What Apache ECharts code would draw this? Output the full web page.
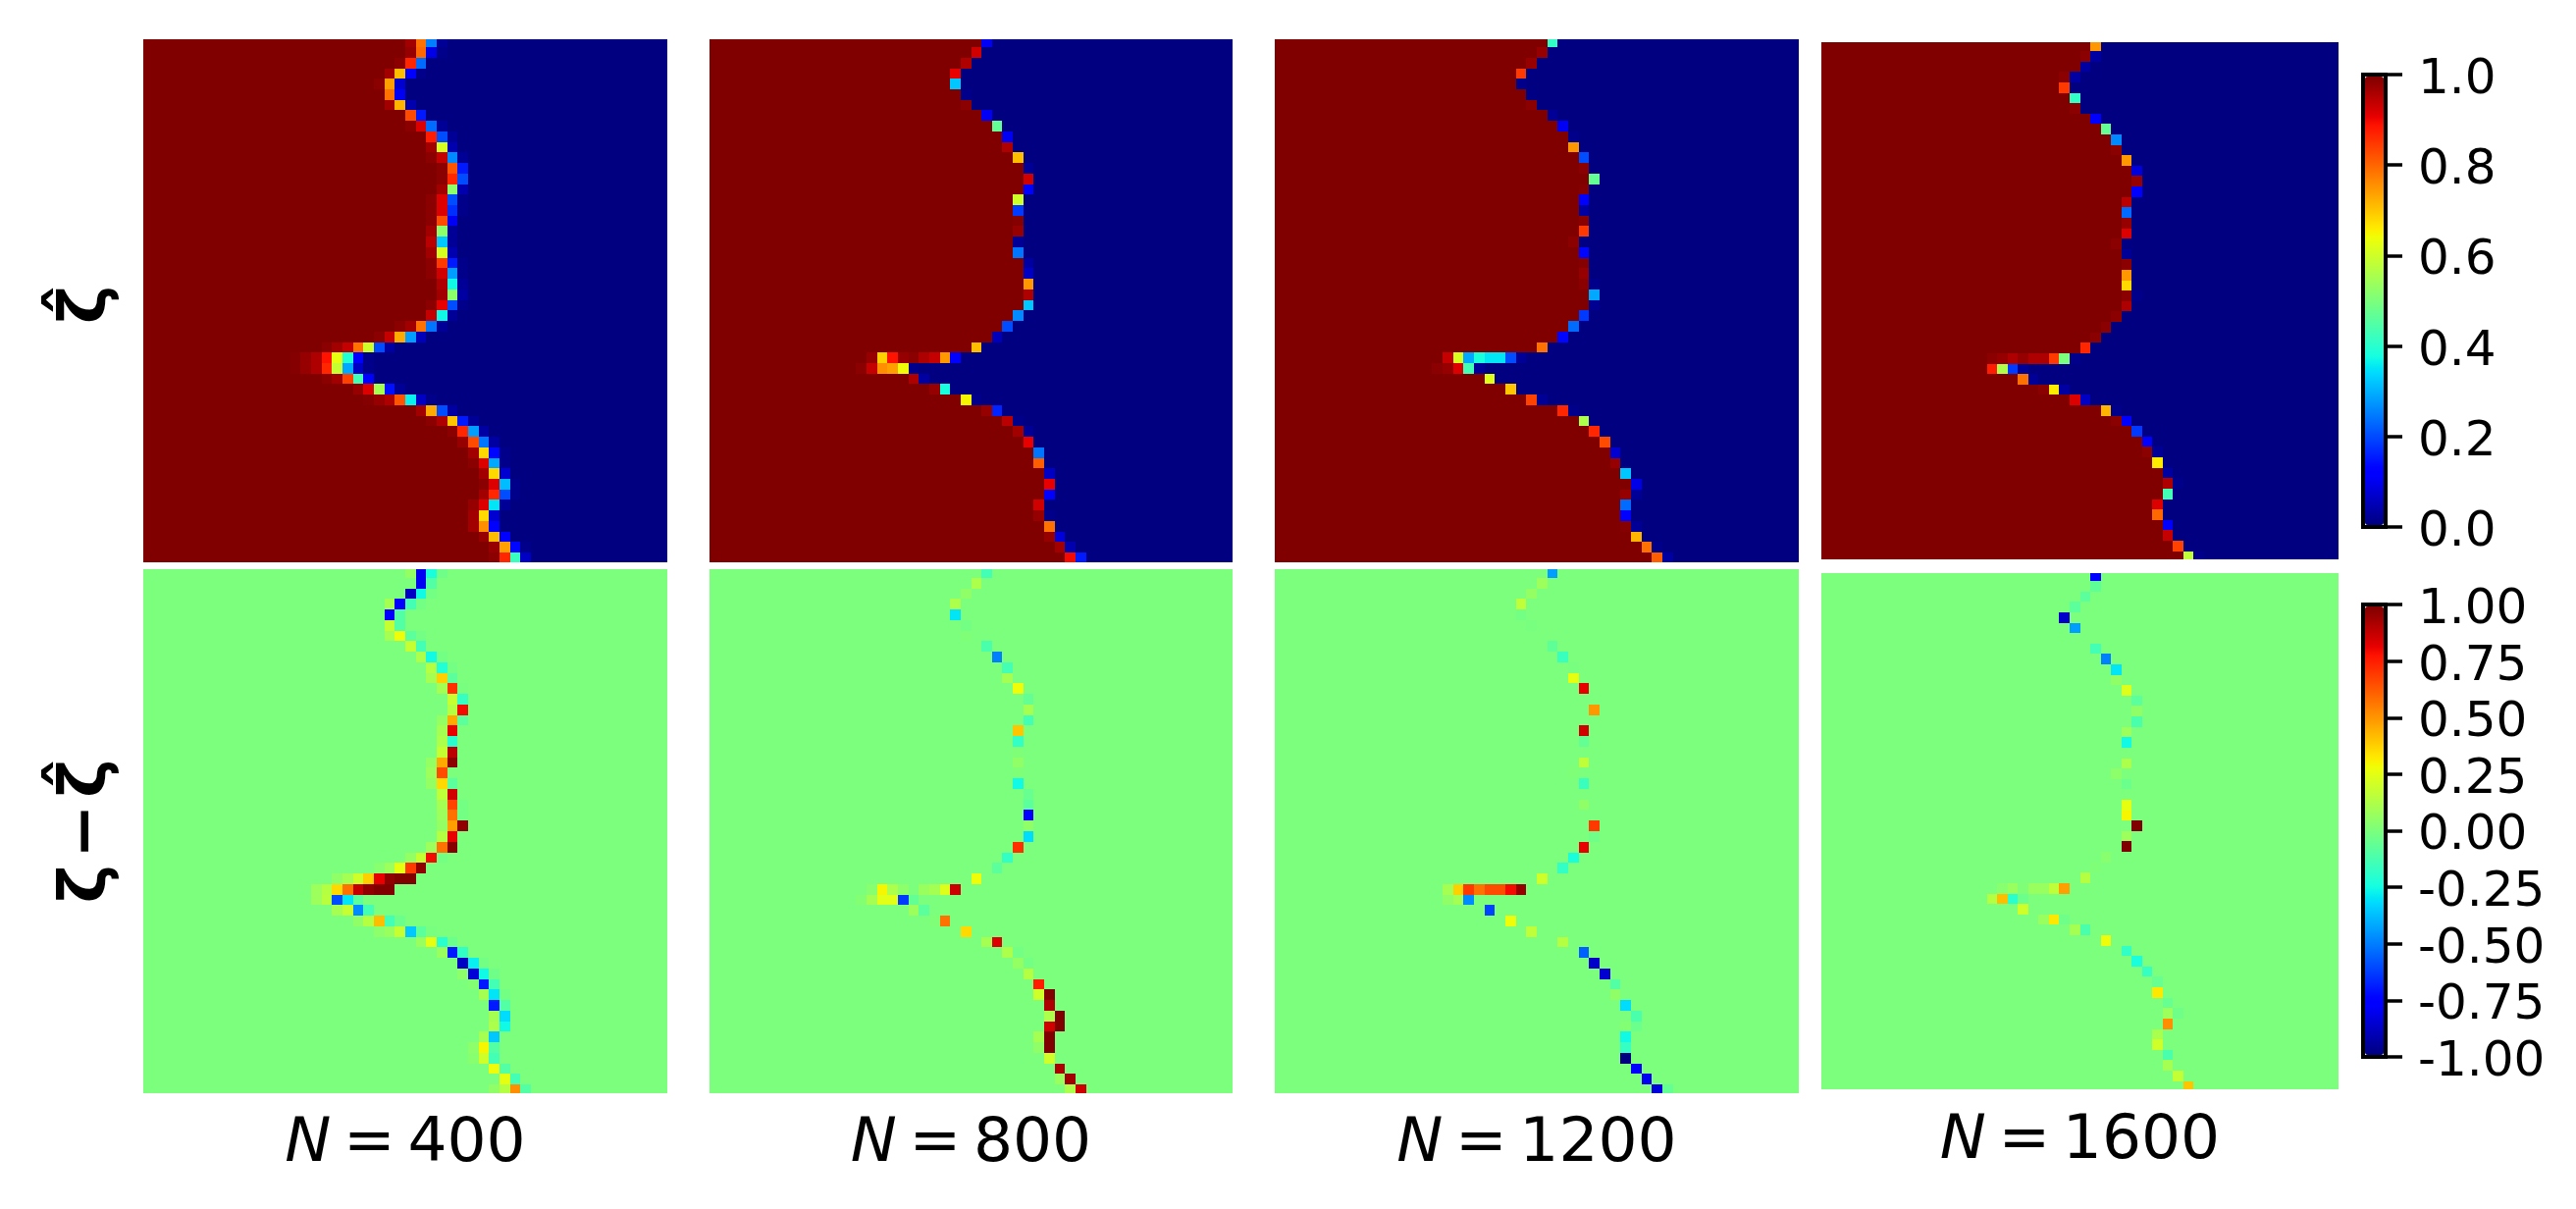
<!DOCTYPE html>
<html>
<head>
<meta charset="utf-8">
<style>html,body{margin:0;padding:0;background:#fff}#chart{width:2625px;height:1232px}</style>
<script src="https://cdn.jsdelivr.net/npm/echarts@6/dist/echarts.min.js"></script>
</head>
<body>
<div id="chart"></div>
<script>
// Each row: [first column of the boundary cells, values of those cells...]
// zetaHat: cells left of the run read 1, cells right of it read 0. diff: all other cells read 0.
const zetaHat400 = [
[25,.97,.79,.25,.02],[25,.98,.8,.09,.01],[24,.99,.87,.23],[23,.97,.71,.11,.01],[22,.99,.74,.07],
[23,.79,.1],[23,.97,.72,.04],[25,.83,.15],[25,.99,.92,.23,.02],[27,.88,.2,.02],
[27,.97,.61,.04],[27,.99,.94,.26,.02],[28,.99,.82,.15],[28,.99,.87,.2],[28,.97,.52,.04],
[27,.99,.92,.2,.01],[27,.99,.92,.17,.01],[27,.99,.83,.1],[27,.97,.52,.02],[27,.95,.32,.02],
[27,.97,.61,.04],[27,.99,.85,.15,.01],[27,.99,.93,.28,.01],[28,.96,.37,.02],[28,.97,.52,.03],
[27,.99,.91,.2,.01],[27,.94,.37,.02],[24,.99,.97,.79,.24,.02],[22,.99,.94,.73,.28,.05],[17,.99,.97,.94,.79,.6,.2,.03],
[14,.995,.98,.96,.89,.63,.39,.11,.01],[14,.995,.98,.96,.87,.59,.29,.06,.01],[17,.99,.97,.84,.43,.11],[20,.98,.92,.55,.14,.02],[21,.995,.98,.96,.82,.36,.06,.01],
[26,.97,.73,.2,.03],[27,.99,.96,.7,.15,.02],[29,.99,.87,.28,.03],[30,.98,.83,.24,.03],[31,.97,.68,.13,.01],
[31,.99,.92,.29,.01],[32,.97,.68,.07],[32,.99,.92,.31,.01],[32,.97,.87,.2,.01],[31,.98,.92,.35,.02],
[31,.97,.68,.07],[31,.97,.76,.11],[32,.98,.71,.11],[33,.98,.74,.13,.01],[33,.99,.87,.42,.06]
];
const diff400 = [
[25,.06,-.8,-.24,-.03],[26,-.8,-.1],[25,-.88,-.26,-.02],[23,.1,-.78,-.14,-.02],[23,-.78,-.1],
[23,.18,-.1],[23,.1,.28,-.08,-.02],[25,.18,-.14],[26,.12,-.26,-.02],[27,.14,-.22,-.02],
[27,.1,.38,-.08],[28,.1,.72,-.01],[29,.18,-.17],[29,.14,.8],[28,.06,.46,-.08],
[28,.1,.82],[28,.12,-.2],[28,.18,.9],[27,.06,.46,.98],[27,.08,.66],
[27,.06,.36,-.08],[28,.16,.86],[28,.1,.68,-.02],[28,.08,.58,-.02],[28,.06,.48,.97],
[28,.14,.82],[27,.08,.58,.99],[25,.06,.18,.8,-.02],[22,.03,.08,.26,.7,.97],[18,.05,.1,.2,.38,.82,.97,1,1],
[16,.08,.14,.36,.58,.88,.97,1,1],[16,.08,.15,-.6,-.3,-.08],[18,.1,.18,-.48,-.14],[20,.05,.14,.42,-.14,-.04],[22,.04,.07,.18,-.36,-.08,-.01],
[26,.07,.26,-.2,-.04],[28,.07,-.7,-.18],[30,-.88,-.28,-.02],[30,.04,-.85,-.26,-.03],[31,.02,-.7,-.14],
[32,.1,-.3,-.02],[33,-.7,-.1],[33,.1,-.32],[33,.12,-.26],[32,.1,-.36],
[31,.04,.3,-.1],[31,.03,.2,-.14],[33,.28,-.1],[34,.26,-.14],[33,.05,.14,.52,-.1]
];
const zetaHat800 = [
[26,.1],[25,.93],[24,.96],[23,.91],[23,.32],
[24,.01],[24,.99],[26,.1],[27,.47],[28,.1],
[28,.96],[29,.71],[30,.02],[30,.93],[30,.11],
[29,.6],[29,.18],[29,.995],[29,.98],[29,.02],
[29,.24],[30,.03],[30,.06],[30,.75],[30,.96],
[30,.32],[29,.26],[28,.2],[27,.05],[25,.71],
[15,.98,.69,.89,.98,.99,.96,.94,.75,.11],[14,.99,.94,.76,.74,.64,.01],[19,.96,.03],[21,.98,.38],[24,.65,.01],
[26,.98,.16],[28,.95,.01],[29,.97,.02],[30,.91],[31,.24],
[31,.81],[32,.06],[32,.91],[32,.11],[31,.93],
[31,.98,.01],[32,.79],[32,.98,.08],[33,.97,.04],[34,.9,.15]
];
const diff800 = [
[26,-.14],[25,.12],[24,.05],[23,.12],[23,-.3],
[24,-.02],[24,.01],[26,-.12],[27,-.5],[28,-.14],
[28,.1],[29,.28],[30,-.06],[30,.1],[30,-.14],
[29,.4],[29,-.18],[29,.01],[29,.05],[29,.01],
[29,-.26],[30,-.05],[30,-.08],[30,-.78],[30,.05],
[30,-.32],[29,.72],[28,-.18],[27,-.08],[25,.28],
[15,.03,.3,.12,.04,0,.07,.1,.24,.87],[14,.02,.1,.25,.25,-.64,-.06],[19,.08,-.08],[21,.01,.58],[24,.36],
[26,.1,.84],[28,.12,-.02],[29,.06,-.02],[30,.14],[31,.76],
[31,.2,1],[32,.92],[32,.12,1],[32,.86,1],[31,.1,1],
[31,.05,1],[32,.2],[33,.92],[33,.07,.94],[34,.12,.86]
];
const zetaHat1200 = [
[26,.41],[25,.98],[24,.98],[23,.85],[23,.01],
[24,.005],[24,.99],[26,.02],[27,.1],[28,.01],
[28,.75],[29,.2],[29,.99],[30,.47],[29,.995],
[29,.11],[29,.03],[29,.99],[29,.85],[28,.99,.005],
[29,.13],[29,.995],[29,.98],[29,.99,.01],[30,.29],
[30,.015],[29,.18],[28,.23],[27,.13],[25,.79],
[16,.94,.61,.29,.38,.35,.35,.2,.02],[15,.99,.98,.92,.43,.02],[20,.62],[22,.7],[24,.84,.02],
[27,.87,.01],[29,.56],[30,.87],[31,.83],[32,.07],
[32,.98],[33,.32],[34,.09],[33,.98,.02],[33,.23],
[33,.11],[33,.995,.02],[34,.72],[35,.79,.01],[36,.81,.03]
];
const diff1200 = [
[26,-.44],[25,.08],[24,.06],[23,.16],[23,-.02],
[24,-.01],[],[26,-.07],[27,-.16],[28,-.01],
[28,.26],[29,.82],[],[30,.5],[],
[29,.86],[29,-.06],[],[29,.16],[28,.01],
[29,-.16],[],[29,.05],[],[30,.7],
[30,-.03],[29,.82],[28,-.24],[27,-.18],[25,.2],
[16,.1,.38,.7,.58,.66,.66,.8,.96],[16,.05,.1,-.48],[20,-.62],[22,.28],[24,.16],
[27,.14],[29,-.56],[30,-.87],[31,-.86],[32,-.1],
[32,.05],[33,-.32],[34,-.12],[33,.02,-.04],[33,-.26],
[33,-.17],[33,-1],[34,-.78],[35,-.8],[36,-.84,-.06]
];
const zetaHat1600 = [
[26,.75],[25,.99,.03],[25,.03],[23,.99,.03],[23,.85],
[24,.41],[24,.99],[26,.11],[27,.47],[28,.26],
[28,.99],[29,.75],[30,.08],[30,.98],[30,.11],
[29,.95],[29,.23],[29,.98],[29,.92],[28,.99,.005],
[29,.02],[29,.99],[29,.75],[29,.68],[29,.99,.01],
[29,.96],[28,.99],[27,.99],[26,.99],[25,.87],
[16,.99,.98,.96,.98,.96,.96,.85,.5,.01],[16,.88,.56,.18,.02],[19,.79,.02],[21,.99,.66,.03],[24,.92,.06],
[27,.72,.01],[28,.99,.11],[30,.18],[31,.11],[31,.99,.02],
[32,.66],[33,.03],[33,.96,.01],[33,.43],[32,.92],
[32,.8],[33,.11],[33,.94],[34,.84],[35,.58,.01]
];
const diff1600 = [
[26,-.78],[26,-.07],[25,-.08],[24,-.08],[23,-.87],
[24,-.44],[],[26,-.14],[27,-.5],[28,-.3],
[28,.05],[29,.24],[30,-.08],[30,.05],[30,-.12],
[29,.08],[29,-.26],[],[29,.12],[28,.04],
[29,-.04],[],[29,.26],[29,.3],[30,1],
[29,.08],[29,1],[27,.03],[26,.01],[25,.14],
[17,.03,.07,.01,.07,.07,.16,.48],[16,.14,.42,-.2,-.04],[19,.2],[21,.07,.33,-.03],[24,.1,-.12],
[27,.28],[29,-.18],[30,-.24],[31,-.17],[32,-.05],
[32,.33],[33,-.05],[33,.08,-.03],[33,.52],[32,.11],
[32,.2],[33,-.12],[33,.1],[34,.17],[35,.4]
];
const sampleSizes = ['400', '800', '1200', '1600'];
const estimates = [zetaHat400, zetaHat800, zetaHat1200, zetaHat1600];
const differences = [diff400, diff800, diff1200, diff1600];
const rowLabels = ['\u03B6\u0302', '\u03B6\u200A\u2212\u200A\u03B6\u0302'];
const estimateTicks = [0, 1, 0.2, 1];        // min, max, interval, decimals
const differenceTicks = [-1, 1, 0.25, 2];

const CELLS = 50;
const cellIndex = Array.from({length: CELLS}, (_, i) => i);

// matplotlib jet colormap knots
const jetR = [[0,0],[.35,0],[.66,1],[.89,1],[1,.5]];
const jetG = [[0,0],[.125,0],[.375,1],[.64,1],[.91,0],[1,0]];
const jetB = [[0,.5],[.11,1],[.34,1],[.65,0],[1,0]];
function knot(k, t) {
  for (let i = 1; i < k.length; i++) {
    if (t <= k[i][0]) return k[i-1][1] + (k[i][1]-k[i-1][1])*(t-k[i-1][0])/(k[i][0]-k[i-1][0]);
  }
  return k[k.length-1][1];
}
const jet = Array.from({length: 256}, (_, i) => {
  const t = i / 255;
  return 'rgb(' + [jetR, jetG, jetB].map(k => Math.round(knot(k, t) * 255)).join(',') + ')';
});

function expandEstimate(rows) {
  const out = [];
  rows.forEach((row, r) => {
    const s = row[0], vals = row.slice(1);
    cellIndex.forEach(c => {
      const v = c < s ? 1 : (c < s + vals.length ? vals[c - s] : 0);
      out.push([c, r, v]);
    });
  });
  return out;
}
function expandDiff(rows) {
  const out = [];
  rows.forEach((row, r) => {
    const s = row.length ? row[0] : 999, vals = row.slice(1);
    cellIndex.forEach(c => {
      const v = (c >= s && c < s + vals.length) ? vals[c - s] : 0;
      out.push([c, r, v]);
    });
  });
  return out;
}

// each cell is drawn between its edges on the axis, snapped to whole pixels so that no seams show
function renderCell(params, api) {
  const c = api.value(0), r = api.value(1);
  const a = api.coord([c, r]), b = api.coord([c + 1, r + 1]);
  const x0 = Math.round(a[0]), y0 = Math.round(a[1]);
  return {
    type: 'rect',
    shape: {x: x0, y: y0, width: Math.round(b[0]) - x0, height: Math.round(b[1]) - y0},
    style: {fill: api.visual('color')}
  };
}

const FONT = '"DejaVu Sans"';
// layout: one box per column: [left, width, top1, height1, top2, height2, rowMin1, rowMax1, rowMin2, rowMax2]
const panels = [
  [146, 534, 40, 533, 580, 534, .25, 49.92, .18, 49.82],
  [723, 533, 40, 533, 580, 534, .25, 49.92, .18, 49.82],
  [1299, 534, 40, 533, 580, 534, .25, 49.92, .18, 49.82],
  [1856, 527, 43, 527, 584, 526, .14, 49.79, .24, 49.79]
];
const grid = [], xAxis = [], yAxis = [], series = [];
function addPanel(left, top, width, height, rowMin, rowMax, data, opts) {
  const g = grid.length;
  grid.push({left, top, width, height});
  const hidden = {axisLine: {show: false}, axisTick: {show: false}, axisLabel: {show: false}, splitLine: {show: false}};
  const xa = Object.assign({gridIndex: g, type: 'value', min: 0, max: CELLS}, hidden);
  const ya = Object.assign({gridIndex: g, type: 'value', min: rowMin, max: rowMax, inverse: true}, hidden);
  if (opts.xName) {
    xa.name = '{i|N}{r|\u2009=\u2009' + opts.xName + '}';
    xa.nameLocation = 'middle';
    xa.nameGap = opts.xGap;
    xa.nameTextStyle = {rich: {
      i: {fontFamily: FONT, fontStyle: 'italic', fontSize: 63, color: '#000'},
      r: {fontFamily: FONT, fontSize: 63, color: '#000'}
    }};
  }
  if (opts.yName) {
    ya.name = opts.yName;
    ya.nameLocation = 'middle';
    ya.nameGap = 23;
    ya.nameRotate = 90;
    ya.nameTextStyle = {fontFamily: FONT, fontWeight: 'bold', fontSize: 66, color: '#000', padding: opts.yPad};
  }
  xAxis.push(xa);
  yAxis.push(ya);
  series.push({type: 'custom', coordinateSystem: 'cartesian2d', xAxisIndex: g, yAxisIndex: g, data, silent: true,
    clip: true, progressive: 0, renderItem: renderCell, encode: {x: 0, y: 1}});
  return series.length - 1;
}
const estSeries = [], diffSeries = [];
panels.forEach((p, i) => {
  estSeries.push(addPanel(p[0], p[2], p[1], p[3], p[6], p[7], expandEstimate(estimates[i]),
    {yName: i === 0 ? rowLabels[0] : null, yPad: [0, 8, 0, 0]}));
  diffSeries.push(addPanel(p[0], p[4], p[1], p[5], p[8], p[9], expandDiff(differences[i]),
    {yName: i === 0 ? rowLabels[1] : null, yPad: 0, xName: sampleSizes[i], xGap: i === 3 ? 22 : 21}));
});

// colour bars: the gradient is the visualMap, the frame is a grid border, and the ticks are the
// split lines of a narrow grid beside the bar. The invisible line gives that axis its domain.
function addColorbar(top, height, ticks) {
  grid.push({left: 2408, top, width: 23, height, show: true, borderColor: '#000', borderWidth: 4,
    backgroundColor: 'transparent'});
  const frame = grid.length - 1;
  xAxis.push({gridIndex: frame, type: 'value', show: false, min: 0, max: 1});
  yAxis.push({gridIndex: frame, type: 'value', show: false, min: ticks[0], max: ticks[1]});
  const g = grid.length;
  grid.push({left: 2431, top, width: 17, height});
  xAxis.push({gridIndex: g, type: 'value', show: false, min: 0, max: 1});
  yAxis.push({gridIndex: g, type: 'value', position: 'right', min: ticks[0], max: ticks[1], interval: ticks[2],
    axisLine: {show: false}, axisTick: {show: false},
    splitLine: {show: true, showMinLine: true, showMaxLine: true, lineStyle: {color: '#000', width: 3.5, type: 'solid'}},
    axisLabel: {show: true, margin: 16, formatter: v => '{t|' + v.toFixed(ticks[3]) + '}',
      rich: {t: {color: '#000', fontFamily: FONT, fontSize: 50, padding: [12, 0, 0, 0]}}}});
  series.push({type: 'line', xAxisIndex: g, yAxisIndex: g, silent: true, symbol: 'none',
    lineStyle: {opacity: 0}, data: [[0.5, ticks[0]], [0.5, ticks[1]]]});
}
addColorbar(76, 461, estimateTicks);
addColorbar(616, 461, differenceTicks);

const visualMap = [
  {type: 'continuous', seriesIndex: estSeries, min: 0, max: 1, dimension: 2, inRange: {color: jet},
   left: 2410, top: 78, itemWidth: 19, itemHeight: 457, padding: 0, text: null, calculable: false,
   hoverLink: false, orient: 'vertical'},
  {type: 'continuous', seriesIndex: diffSeries, min: -1, max: 1, dimension: 2, inRange: {color: jet},
   left: 2410, top: 618, itemWidth: 19, itemHeight: 457, padding: 0, text: null, calculable: false,
   hoverLink: false, orient: 'vertical'}
];

const chart = echarts.init(document.getElementById('chart'), null, {renderer: 'canvas'});
chart.setOption({animation: false, backgroundColor: '#fff', tooltip: {show: false},
  grid, xAxis, yAxis, series, visualMap});
</script>
</body>
</html>
